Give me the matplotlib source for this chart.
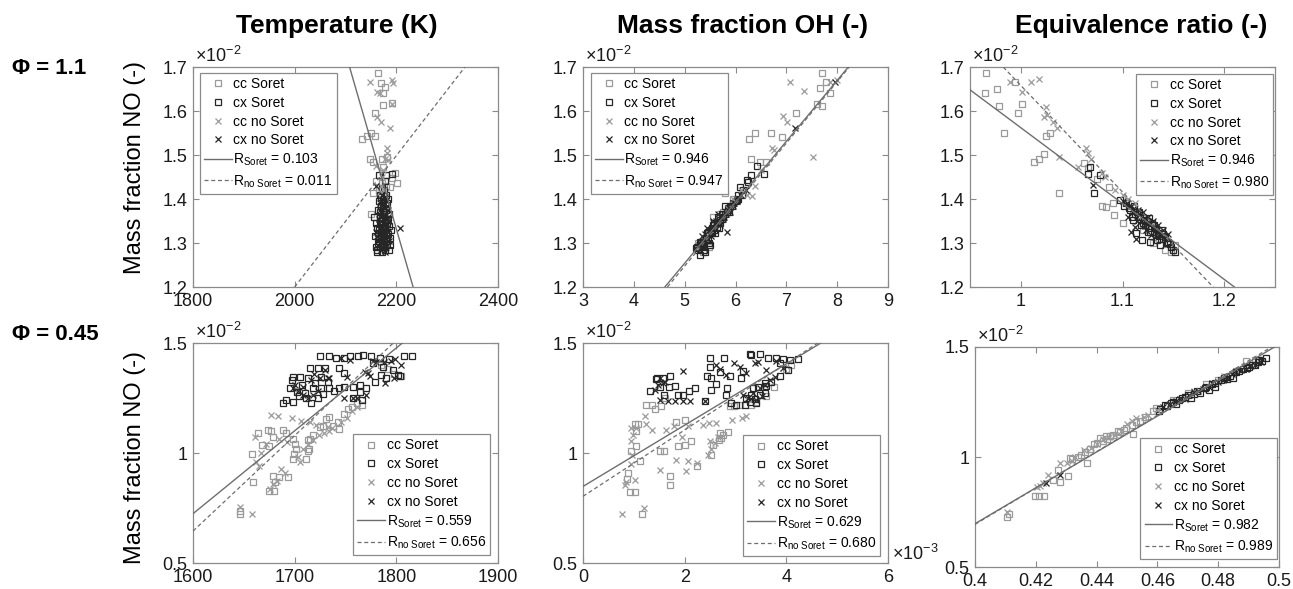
#!/usr/bin/env python3
"""NO mass fraction versus temperature, OH and equivalence ratio for two Phi cases."""

import matplotlib

matplotlib.use("Agg")
import matplotlib.pyplot as plt
from matplotlib.ticker import FormatStrFormatter

FIG_W, FIG_H = 1293, 589
FONT = "Liberation Sans"
LIGHT = "#9a9a9a"
DARK = "#262626"
SPINE = "#8a8a8a"
FIT_COLOR = "#6e6e6e"
TICK_SIZE = 13

# ---------------------------------------------------------------- data
# y values are mass fraction NO in units of 1e-2, OH x values in 1e-3
# Phi = 1.1, temperature (K)
P1_CCS_X = [2164, 2169, 2178, 2174, 2173, 2191, 2158, 2133, 2142, 2151, 2158, 2148, 2155, 2171,
            2181, 2174, 2197, 2191, 2201, 2188, 2155, 2171, 2151, 2166, 2176, 2160, 2180]
P1_CCS_Y = [1.686, 1.664, 1.655, 1.640, 1.614, 1.619, 1.595, 1.536, 1.543, 1.551, 1.543, 1.492,
            1.485, 1.492, 1.496, 1.473, 1.458, 1.447, 1.436, 1.428, 1.413, 1.436, 1.367, 1.420,
            1.410, 1.440, 1.430]
P1_CXS_X = [2165, 2180, 2192, 2178, 2172, 2168, 2176, 2182, 2170, 2163, 2175, 2185, 2168, 2178,
            2160, 2172, 2186, 2165, 2180, 2170, 2158, 2188, 2175, 2163, 2182, 2168, 2178, 2160,
            2172, 2185, 2166, 2174, 2170, 2176, 2164, 2157, 2190, 2161, 2181, 2173,
            2167, 2173, 2179, 2171, 2177, 2183, 2162, 2169, 2176, 2184, 2166, 2171, 2179, 2187,
            2162, 2175, 2181, 2168, 2174, 2180, 2176, 2170, 2166, 2184]
P1_CXS_Y = [1.455, 1.455, 1.457, 1.440, 1.425, 1.410, 1.400, 1.390, 1.385, 1.375, 1.370, 1.365,
            1.360, 1.352, 1.345, 1.340, 1.338, 1.330, 1.325, 1.318, 1.315, 1.312, 1.305, 1.300,
            1.298, 1.290, 1.285, 1.292, 1.280, 1.283, 1.308, 1.295, 1.350, 1.335, 1.322, 1.360,
            1.330, 1.285, 1.345, 1.395,
            1.370, 1.365, 1.375, 1.355, 1.345, 1.355, 1.335, 1.325, 1.315, 1.320, 1.310, 1.300,
            1.305, 1.295, 1.280, 1.290, 1.310, 1.345, 1.380, 1.410, 1.420, 1.405, 1.395, 1.400]
P1_CCN_X = [2148, 2191, 2193, 2161, 2168, 2191, 2161, 2169, 2188, 2181, 2181, 2178, 2184, 2160,
            2174, 2171, 2170, 2175, 2168]
P1_CCN_Y = [1.667, 1.670, 1.663, 1.644, 1.640, 1.615, 1.586, 1.576, 1.561, 1.515, 1.504, 1.492,
            1.489, 1.474, 1.466, 1.451, 1.430, 1.420, 1.415]
P1_CXN_X = [2160, 2207, 2172, 2180, 2168, 2176, 2184, 2170, 2178, 2166, 2174, 2182, 2170, 2160,
            2178, 2168, 2186, 2174, 2164, 2180, 2172, 2177, 2169, 2175, 2171, 2183, 2165,
            2168, 2175, 2181, 2173, 2179, 2167, 2176, 2184, 2162, 2173, 2180, 2169, 2177, 2165,
            2171, 2178, 2183, 2174]
P1_CXN_Y = [1.430, 1.333, 1.400, 1.395, 1.390, 1.380, 1.375, 1.370, 1.360, 1.355, 1.345, 1.340,
            1.330, 1.325, 1.318, 1.310, 1.305, 1.300, 1.295, 1.290, 1.385, 1.365, 1.342, 1.325,
            1.315, 1.350, 1.310,
            1.375, 1.390, 1.385, 1.355, 1.345, 1.335, 1.330, 1.325, 1.315, 1.300, 1.300, 1.285,
            1.280, 1.345, 1.410, 1.405, 1.360, 1.320]

# Phi = 1.1, mass fraction OH
P2_CCS_X = [7.695, 7.78, 7.66, 7.86, 7.60, 7.695, 7.19, 6.38, 6.27, 6.69, 6.91, 6.30, 6.48, 5.79,
            5.70, 5.76, 5.27, 5.37, 5.47, 5.56, 6.60, 5.95, 5.40]
P2_CCS_Y = [1.686, 1.667, 1.652, 1.640, 1.617, 1.611, 1.596, 1.551, 1.536, 1.549, 1.542, 1.491,
            1.485, 1.414, 1.367, 1.371, 1.301, 1.280, 1.292, 1.360, 1.483, 1.400, 1.310]
P2_CXS_X = [5.269, 5.367, 5.465, 5.301, 5.531, 5.433, 5.629, 5.564, 5.695, 5.76, 5.662, 5.826,
            5.892, 5.957, 6.023, 6.056, 6.154, 6.252, 5.728, 5.531, 5.40, 5.334, 6.42, 6.56, 6.30,
            6.22, 6.09, 5.22, 5.31, 5.79, 5.60, 5.50,
            5.25, 5.33, 5.38, 5.42, 5.48, 5.52, 5.58, 5.63, 5.67, 5.73, 5.80, 5.85, 5.88, 5.93,
            6.00, 6.05, 6.12, 5.45, 5.58, 5.70]
P2_CXS_Y = [1.284, 1.292, 1.307, 1.303, 1.322, 1.322, 1.337, 1.341, 1.352, 1.360, 1.360, 1.371,
            1.383, 1.390, 1.398, 1.409, 1.421, 1.439, 1.367, 1.333, 1.280, 1.295, 1.474, 1.457,
            1.455, 1.443, 1.428, 1.288, 1.273, 1.383, 1.322, 1.296,
            1.290, 1.300, 1.285, 1.310, 1.300, 1.325, 1.330, 1.345, 1.335, 1.355, 1.365, 1.380,
            1.370, 1.385, 1.395, 1.400, 1.410, 1.325, 1.345, 1.345]
P2_CCN_X = [7.07, 7.35, 7.99, 6.94, 7.02, 6.71, 6.76, 7.53, 6.38, 6.32, 6.22, 7.85, 6.50, 6.10,
            5.95, 5.85]
P2_CCN_Y = [1.667, 1.645, 1.670, 1.589, 1.576, 1.517, 1.511, 1.495, 1.430, 1.407, 1.409, 1.665,
            1.465, 1.420, 1.400, 1.380]
P2_CXN_X = [5.83, 7.18, 7.96, 5.30, 5.45, 5.50, 5.62, 5.70, 5.78, 5.85, 5.95, 6.02, 5.55, 5.40,
            5.65, 5.90, 6.10, 6.20, 5.35, 5.43,
            5.28, 5.38, 5.48, 5.58, 5.68, 5.75, 5.82, 5.88, 5.98, 6.05, 5.52, 5.62, 5.72, 5.35]
P2_CXN_Y = [1.326, 1.561, 1.667, 1.300, 1.310, 1.330, 1.345, 1.340, 1.360, 1.375, 1.385, 1.395,
            1.350, 1.320, 1.365, 1.370, 1.410, 1.420, 1.315, 1.333,
            1.295, 1.305, 1.320, 1.335, 1.350, 1.355, 1.365, 1.380, 1.390, 1.400, 1.315, 1.350,
            1.360, 1.300]

# Phi = 1.1, equivalence ratio
P3_CCS_X = [0.966, 0.965, 0.977, 0.979, 0.994, 0.997, 1.001, 0.983, 1.025, 1.029, 1.013, 1.018,
            1.023, 1.038, 1.062, 1.066, 1.080, 1.084, 1.092, 1.091, 1.100, 1.075, 1.087, 1.142,
            1.148, 1.152, 1.130, 1.120]
P3_CCS_Y = [1.686, 1.640, 1.651, 1.612, 1.667, 1.595, 1.617, 1.549, 1.543, 1.549, 1.485, 1.490,
            1.502, 1.414, 1.481, 1.470, 1.384, 1.381, 1.364, 1.390, 1.346, 1.445, 1.428, 1.284,
            1.280, 1.295, 1.300, 1.330]
P3_CXS_X = [1.068, 1.066, 1.072, 1.078, 1.098, 1.103, 1.106, 1.111, 1.114, 1.109, 1.117, 1.121,
            1.126, 1.122, 1.129, 1.132, 1.127, 1.135, 1.139, 1.142, 1.134, 1.145, 1.148, 1.137,
            1.152, 1.113, 1.119, 1.127,
            1.101, 1.107, 1.112, 1.116, 1.120, 1.124, 1.128, 1.131, 1.136, 1.140, 1.144, 1.147,
            1.150, 1.118, 1.125, 1.133, 1.138, 1.110]
P3_CXS_Y = [1.473, 1.457, 1.413, 1.454, 1.398, 1.390, 1.379, 1.383, 1.371, 1.360, 1.360, 1.352,
            1.356, 1.341, 1.345, 1.333, 1.326, 1.322, 1.330, 1.314, 1.307, 1.303, 1.292, 1.295,
            1.280, 1.322, 1.307, 1.303,
            1.385, 1.375, 1.365, 1.370, 1.345, 1.350, 1.335, 1.340, 1.315, 1.320, 1.300, 1.298,
            1.285, 1.340, 1.325, 1.318, 1.310, 1.352]
P3_CCN_X = [0.989, 1.010, 1.018, 1.001, 1.025, 1.023, 1.026, 1.032, 1.036, 1.038, 1.056, 1.064,
            1.066, 1.069, 1.080, 1.083, 1.093, 1.100, 1.105, 1.112]
P3_CCN_Y = [1.667, 1.667, 1.672, 1.644, 1.610, 1.587, 1.590, 1.576, 1.561, 1.495, 1.472, 1.515,
            1.504, 1.490, 1.458, 1.451, 1.420, 1.410, 1.400, 1.390]
P3_CXN_X = [1.071, 1.112, 1.108, 1.113, 1.100, 1.108, 1.115, 1.120, 1.125, 1.130, 1.135, 1.118,
            1.140, 1.145, 1.128, 1.122, 1.105,
            1.104, 1.110, 1.116, 1.121, 1.126, 1.131, 1.136, 1.141, 1.114, 1.123, 1.133]
P3_CXN_Y = [1.432, 1.337, 1.326, 1.308, 1.395, 1.385, 1.375, 1.370, 1.360, 1.350, 1.340, 1.350,
            1.330, 1.320, 1.318, 1.338, 1.360,
            1.390, 1.378, 1.365, 1.355, 1.345, 1.335, 1.325, 1.310, 1.350, 1.330, 1.322]

# Phi = 0.45, temperature (K)
P4_CCS_X = [1646, 1646, 1658, 1659, 1664, 1674, 1677, 1668, 1675, 1679, 1679, 1685, 1681, 1675,
            1680, 1693, 1689, 1691, 1698, 1700, 1701, 1698, 1699, 1711, 1713, 1715, 1714, 1731,
            1734, 1743, 1744, 1738, 1749, 1752, 1756, 1761, 1766, 1725, 1728, 1718, 1713, 1792,
            1798, 1785, 1805]
P4_CCS_Y = [0.736, 0.725, 0.996, 0.866, 1.092, 1.103, 1.100, 1.037, 1.030, 1.072, 0.897, 0.889,
            0.866, 0.828, 0.828, 0.889, 1.103, 1.090, 1.065, 1.040, 1.019, 0.973, 0.995, 0.973,
            1.011, 1.065, 1.020, 1.153, 1.164, 1.141, 1.107, 1.125, 1.179, 1.202, 1.210, 1.225,
            1.218, 1.118, 1.125, 1.080, 1.058, 1.380, 1.360, 1.400, 1.350]
P4_CXS_X = [1725, 1734, 1741, 1749, 1754, 1762, 1767, 1775, 1784, 1793, 1808, 1815, 1777, 1787,
            1797, 1802, 1804, 1790, 1785, 1779, 1770, 1764, 1757, 1766, 1757, 1764, 1715, 1723,
            1730, 1726, 1713, 1698, 1697, 1705, 1695, 1707, 1702, 1691, 1689, 1698, 1711, 1716,
            1723, 1726, 1734, 1739, 1744, 1749, 1749, 1744, 1733, 1718, 1710, 1704, 1720, 1728]
P4_CXS_Y = [1.439, 1.441, 1.431, 1.434, 1.439, 1.443, 1.445, 1.439, 1.431, 1.425, 1.443, 1.443,
            1.408, 1.393, 1.378, 1.355, 1.348, 1.339, 1.355, 1.324, 1.294, 1.278, 1.248, 1.240,
            1.301, 1.310, 1.385, 1.388, 1.385, 1.347, 1.339, 1.347, 1.332, 1.345, 1.294, 1.309,
            1.278, 1.240, 1.225, 1.232, 1.248, 1.225, 1.248, 1.294, 1.294, 1.280, 1.294, 1.300,
            1.362, 1.385, 1.324, 1.294, 1.271, 1.260, 1.320, 1.270]
P4_CCN_X = [1658, 1646, 1677, 1684, 1697, 1706, 1715, 1721, 1733, 1661, 1667, 1672, 1662, 1685,
            1692, 1687, 1690, 1679, 1676, 1683, 1703, 1708, 1713, 1718, 1724, 1729, 1734, 1737,
            1746, 1751, 1756, 1761, 1665, 1705]
P4_CCN_Y = [0.721, 0.755, 1.174, 1.167, 1.159, 1.144, 1.140, 1.129, 1.118, 1.072, 1.000, 1.040,
            0.958, 1.065, 1.050, 0.927, 0.907, 0.858, 0.836, 0.875, 0.981, 1.020, 1.040, 1.060,
            1.080, 1.090, 1.100, 1.115, 1.140, 1.160, 1.190, 1.210, 0.940, 0.960]
P4_CXN_X = [1698, 1703, 1708, 1713, 1718, 1723, 1716, 1725, 1730, 1733, 1746, 1754, 1751, 1749,
            1757, 1761, 1769, 1772, 1774, 1777, 1780, 1788, 1795, 1798, 1789, 1770, 1734, 1708,
            1700, 1719, 1805, 1799]
P4_CXN_Y = [1.294, 1.280, 1.265, 1.250, 1.265, 1.280, 1.330, 1.340, 1.377, 1.340, 1.431, 1.423,
            1.347, 1.251, 1.248, 1.250, 1.370, 1.363, 1.350, 1.419, 1.415, 1.415, 1.416, 1.340,
            1.316, 1.263, 1.339, 1.300, 1.310, 1.360, 1.400, 1.425]

# Phi = 0.45, mass fraction OH
P5_CCS_X = [1.167, 0.918, 1.016, 0.885, 0.870, 1.128, 0.951, 1.050, 1.016, 1.080, 1.050, 1.246,
            1.364, 1.410, 1.541, 1.607, 1.823, 2.000, 1.869, 2.000, 2.131, 1.521, 1.590, 1.718,
            1.718, 2.243, 2.525, 2.557, 2.689, 2.760, 2.852, 2.670, 2.720, 2.885, 2.980, 3.082,
            3.300, 3.410, 3.600, 3.750, 4.000, 4.100]
P5_CCS_Y = [0.722, 0.825, 0.821, 0.909, 0.880, 0.962, 1.007, 1.030, 1.131, 1.130, 1.100, 1.219,
            1.216, 1.200, 1.212, 1.250, 1.140, 1.151, 1.030, 1.037, 1.053, 1.010, 1.010, 0.894,
            0.856, 0.939, 0.992, 1.037, 1.090, 1.080, 1.095, 1.060, 1.070, 1.212, 1.212, 1.219,
            1.220, 1.230, 1.260, 1.300, 1.380, 1.400]
P5_CXS_X = [1.456, 1.430, 1.574, 1.718, 1.311, 1.508, 1.690, 1.803, 1.587, 1.869, 1.967, 2.085,
            2.210, 2.393, 2.505, 2.767, 2.490, 2.525, 2.440, 2.525, 2.610, 2.689, 2.833, 2.885,
            3.115, 3.148, 3.279, 3.311, 3.475, 3.639, 3.800, 3.934, 4.066, 4.230, 3.869, 4.033,
            3.870, 3.705, 3.574, 3.440, 2.820, 2.918, 3.016, 3.180, 3.279, 3.410, 3.310, 3.344,
            3.475, 3.574, 3.607, 3.200, 3.380]
P5_CXS_Y = [1.340, 1.335, 1.340, 1.351, 1.280, 1.300, 1.300, 1.303, 1.265, 1.265, 1.265, 1.280,
            1.295, 1.237, 1.431, 1.431, 1.390, 1.340, 1.348, 1.287, 1.313, 1.368, 1.295, 1.350,
            1.340, 1.371, 1.450, 1.447, 1.450, 1.431, 1.430, 1.428, 1.424, 1.428, 1.409, 1.378,
            1.350, 1.325, 1.318, 1.300, 1.265, 1.227, 1.219, 1.220, 1.234, 1.227, 1.265, 1.295,
            1.265, 1.273, 1.303, 1.250, 1.245]
P5_CCN_X = [0.774, 1.193, 0.820, 0.850, 1.016, 0.950, 0.970, 0.951, 0.984, 0.951, 1.049, 1.213,
            1.230, 1.364, 1.626, 1.784, 1.950, 2.066, 1.508, 1.823, 2.066, 2.033, 2.243, 2.361,
            2.479, 2.623, 2.938, 3.134, 3.213, 2.492, 2.600, 2.520, 2.460, 2.660]
P5_CCN_Y = [0.722, 0.750, 0.856, 0.870, 0.878, 0.950, 0.990, 1.053, 1.083, 1.113, 1.113, 1.166,
            1.130, 1.106, 1.106, 1.121, 1.075, 1.121, 0.924, 0.969, 0.962, 0.916, 0.954, 1.128,
            1.136, 1.136, 1.151, 1.159, 1.166, 1.053, 1.045, 1.020, 0.990, 1.075]
P5_CXN_X = [1.967, 1.574, 1.410, 1.508, 1.672, 1.803, 1.967, 2.098, 2.393, 2.610, 2.690, 2.820,
            2.964, 3.080, 3.200, 3.377, 3.440, 3.607, 3.803, 3.934, 3.148, 3.250, 3.344, 3.475,
            3.574, 3.670, 3.770, 1.510, 1.620, 1.480, 3.400, 3.530]
P5_CXN_Y = [1.371, 1.318, 1.288, 1.242, 1.237, 1.237, 1.237, 1.237, 1.237, 1.401, 1.380, 1.356,
            1.409, 1.390, 1.363, 1.409, 1.415, 1.378, 1.416, 1.386, 1.265, 1.250, 1.275, 1.295,
            1.310, 1.330, 1.345, 1.340, 1.325, 1.310, 1.240, 1.260]

# Phi = 0.45, equivalence ratio
P6_CCS_X = [0.4104, 0.4113, 0.4197, 0.4211, 0.4227, 0.4258, 0.4279, 0.4307, 0.4274, 0.4312,
            0.4367, 0.4362, 0.4378, 0.4411, 0.4432, 0.4455, 0.4477, 0.4498, 0.4520, 0.4515,
            0.4542, 0.4586, 0.4597, 0.4390, 0.4420, 0.4470, 0.4435, 0.4860, 0.4893, 0.4920,
            0.4935, 0.4760, 0.4800, 0.4700, 0.4650,
            0.4400, 0.4445, 0.4490, 0.4530, 0.4560, 0.4320, 0.4340, 0.4350]
P6_CCS_Y = [0.728, 0.740, 0.824, 0.824, 0.824, 0.895, 0.887, 0.915, 0.941, 0.994, 0.971, 1.024,
            1.035, 1.088, 1.095, 1.100, 1.112, 1.131, 1.103, 1.146, 1.164, 1.207, 1.222, 1.060,
            1.075, 1.120, 1.080, 1.389, 1.435, 1.442, 1.440, 1.330, 1.350, 1.290, 1.260,
            1.065, 1.095, 1.125, 1.160, 1.180, 0.990, 1.000, 1.010]
P6_CXS_X = [0.461, 0.463, 0.465, 0.466, 0.468, 0.470, 0.471, 0.473, 0.474, 0.476, 0.478, 0.479,
            0.481, 0.482, 0.484, 0.485, 0.487, 0.488, 0.490, 0.491, 0.493, 0.4958, 0.4945, 0.467,
            0.477, 0.483,
            0.4605, 0.4625, 0.4645, 0.469, 0.472, 0.4755, 0.479, 0.4825, 0.486, 0.4895, 0.492,
            0.4935]
P6_CXS_Y = [1.220, 1.230, 1.250, 1.240, 1.270, 1.280, 1.270, 1.300, 1.290, 1.320, 1.330, 1.320,
            1.350, 1.360, 1.370, 1.360, 1.390, 1.400, 1.410, 1.420, 1.430, 1.450, 1.435, 1.260,
            1.305, 1.355,
            1.210, 1.235, 1.245, 1.275, 1.285, 1.315, 1.335, 1.365, 1.385, 1.405, 1.420, 1.440]
P6_CCN_X = [0.4104, 0.4203, 0.4215, 0.4225, 0.4241, 0.4279, 0.4301, 0.4320, 0.4380, 0.4400,
            0.4440, 0.4480, 0.4500, 0.4515, 0.4531, 0.4556, 0.4600, 0.4640, 0.4720, 0.4820,
            0.4330, 0.4360, 0.4420, 0.4460, 0.4570]
P6_CCN_Y = [0.751, 0.865, 0.870, 0.880, 0.918, 0.971, 0.971, 0.980, 1.040, 1.060, 1.090, 1.120,
            1.150, 1.165, 1.176, 1.184, 1.215, 1.240, 1.300, 1.370,
            1.000, 1.030, 1.080, 1.100, 1.190]
P6_CXN_X = [0.4235, 0.4280, 0.462, 0.466, 0.469, 0.472, 0.475, 0.478, 0.480, 0.483, 0.486,
            0.489, 0.492, 0.494,
            0.464, 0.4675, 0.4705, 0.4735, 0.477, 0.4815, 0.4845, 0.4875, 0.4905]
P6_CXN_Y = [0.880, 0.920, 1.225, 1.255, 1.265, 1.295, 1.310, 1.335, 1.340, 1.360, 1.385, 1.400,
            1.420, 1.430,
            1.240, 1.265, 1.280, 1.300, 1.320, 1.350, 1.375, 1.395, 1.415]

# linear fits: (slope, intercept) and correlation coefficient
FIT_SORET = [(-0.004, 10.132), (0.1385, 0.5615), (-1.723, 3.285),
             (0.003767, -5.303), (0.1393, 0.848), (8.152, -2.564)]
FIT_NOSORET = [(0.0014925, -1.785), (0.1397, 0.549), (-2.421, 4.079),
               (0.00434, -6.299), (0.1509, 0.803), (8.267, -2.613)]
R_SORET = ["0.103", "0.946", "0.946", "0.559", "0.629", "0.982"]
R_NOSORET = ["0.011", "0.947", "0.980", "0.656", "0.680", "0.989"]

SERIES_LABELS = ["cc Soret", "cx Soret", "cc no Soret", "cx no Soret"]
COLUMN_TITLES = ["Temperature (K)", "Mass fraction OH (-)", "Equivalence ratio (-)"]
ROW_LABELS = ["Φ = 1.1", "Φ = 0.45"]
Y_LABEL = "Mass fraction NO (-)"

X_LIMITS = [(1800, 2400), (3, 9), (0.95, 1.25), (1600, 1900), (0, 6), (0.4, 0.5)]
X_TICKS = [[1800, 2000, 2200, 2400], [3, 4, 5, 6, 7, 8, 9], [1, 1.1, 1.2],
           [1600, 1700, 1800, 1900], [0, 2, 4, 6], [0.4, 0.42, 0.44, 0.46, 0.48, 0.5]]
Y_LIMITS = [(1.2, 1.7)] * 3 + [(0.5, 1.5)] * 3
Y_TICKS = [[1.2, 1.3, 1.4, 1.5, 1.6, 1.7]] * 3 + [[0.5, 1, 1.5]] * 3

# axes boxes in pixels: left, top, width, height
AXES_PX = [(193, 67, 305, 220), (583, 67, 305, 220), (970, 67, 305, 220),
           (193, 343, 305, 220), (583, 343, 305, 220), (975, 347, 304, 220)]
# legend placement: corner and offset from that corner in pixels
LEGEND_LOC = ["upper left", "upper left", "upper right", "lower right", "lower right", "lower right"]
LEGEND_OFF = [(7, 6), (8, 6), (2, 7), (8, 8), (8, 7), (2, 8)]
MARKER_STYLES = [("s", LIGHT, 5.0), ("s", DARK, 5.0), ("x", LIGHT, 4.2), ("x", DARK, 4.2)]


def px_rect(left, top, width, height):
    return [left / FIG_W, 1 - (top + height) / FIG_H, width / FIG_W, height / FIG_H]


def configure_style():
    plt.rcParams.update({
        "font.family": [FONT, "DejaVu Sans"],
        "mathtext.fontset": "custom",
        "mathtext.rm": FONT,
        "mathtext.it": FONT + ":italic",
        "mathtext.bf": FONT + ":bold",
        "axes.unicode_minus": False,
        "font.size": 12,
    })


def draw_panel(ax, idx, series, box):
    for (xs, ys), (marker, color, size), label in zip(series, MARKER_STYLES, SERIES_LABELS):
        ax.plot(xs, ys, linestyle="none", marker=marker, markersize=size,
                markerfacecolor="none", markeredgecolor=color, markeredgewidth=0.9,
                label=label, zorder=3)

    m, b = FIT_SORET[idx]
    ax.axline((0, b), slope=m, color=FIT_COLOR, linewidth=1.0,
              label=r"$\mathregular{R_{Soret}}$ = " + R_SORET[idx], zorder=4)
    m, b = FIT_NOSORET[idx]
    ax.axline((0, b), slope=m, color=FIT_COLOR, linewidth=0.9, linestyle=(0, (3.2, 2.2)),
              label=r"$\mathregular{R_{no\ Soret}}$ = " + R_NOSORET[idx], zorder=4)

    ax.set_xlim(*X_LIMITS[idx])
    ax.set_ylim(*Y_LIMITS[idx])
    ax.set_xticks(X_TICKS[idx])
    ax.set_yticks(Y_TICKS[idx])
    ax.xaxis.set_major_formatter(FormatStrFormatter("%g"))
    ax.yaxis.set_major_formatter(FormatStrFormatter("%g"))
    ax.tick_params(direction="in", top=True, right=True, length=4, width=0.8,
                   color=SPINE, labelsize=TICK_SIZE, labelcolor="#1a1a1a", pad=4)
    for spine in ax.spines.values():
        spine.set_color(SPINE)
        spine.set_linewidth(0.9)

    ax.text(0.005, 1.005, "×" + r"$\mathregular{10^{-2}}$", transform=ax.transAxes,
            ha="left", va="bottom", fontsize=TICK_SIZE, color="#1a1a1a")

    w, h = box[2], box[3]
    dx, dy = LEGEND_OFF[idx]
    loc = LEGEND_LOC[idx]
    if loc == "upper left":
        anchor = (dx / w, 1 - dy / h)
    elif loc == "upper right":
        anchor = (1 - dx / w, 1 - dy / h)
    else:
        anchor = (1 - dx / w, dy / h)
    leg = ax.legend(loc=loc, bbox_to_anchor=anchor, borderaxespad=0, fontsize=10,
                    frameon=True, fancybox=False, framealpha=1, edgecolor=SPINE,
                    handlelength=2.0, handletextpad=0.1, labelspacing=0.34,
                    borderpad=0.3, numpoints=1)
    leg.get_frame().set_linewidth(0.9)


def main():
    configure_style()
    fig = plt.figure(figsize=(FIG_W / 100, FIG_H / 100), dpi=100)
    fig.patch.set_facecolor("white")

    all_series = [
        [(P1_CCS_X, P1_CCS_Y), (P1_CXS_X, P1_CXS_Y), (P1_CCN_X, P1_CCN_Y), (P1_CXN_X, P1_CXN_Y)],
        [(P2_CCS_X, P2_CCS_Y), (P2_CXS_X, P2_CXS_Y), (P2_CCN_X, P2_CCN_Y), (P2_CXN_X, P2_CXN_Y)],
        [(P3_CCS_X, P3_CCS_Y), (P3_CXS_X, P3_CXS_Y), (P3_CCN_X, P3_CCN_Y), (P3_CXN_X, P3_CXN_Y)],
        [(P4_CCS_X, P4_CCS_Y), (P4_CXS_X, P4_CXS_Y), (P4_CCN_X, P4_CCN_Y), (P4_CXN_X, P4_CXN_Y)],
        [(P5_CCS_X, P5_CCS_Y), (P5_CXS_X, P5_CXS_Y), (P5_CCN_X, P5_CCN_Y), (P5_CXN_X, P5_CXN_Y)],
        [(P6_CCS_X, P6_CCS_Y), (P6_CXS_X, P6_CXS_Y), (P6_CCN_X, P6_CCN_Y), (P6_CXN_X, P6_CXN_Y)],
    ]

    axes = []
    for idx, box in enumerate(AXES_PX):
        ax = fig.add_axes(px_rect(*box))
        draw_panel(ax, idx, all_series[idx], box)
        axes.append(ax)

    # OH axis multiplier only shows on the lower panel
    axes[4].text(1.012, 0.04, "×" + r"$\mathregular{10^{-3}}$", transform=axes[4].transAxes,
                 ha="left", va="center", fontsize=TICK_SIZE, color="#1a1a1a")

    # column titles and row labels
    for title, xc in zip(COLUMN_TITLES, [337, 743, 1141]):
        fig.text(xc / FIG_W, 1 - 26 / FIG_H, title, ha="center", va="center",
                 fontsize=19, fontweight="bold")
    for label, yc in zip(ROW_LABELS, [68, 335]):
        fig.text(12 / FIG_W, 1 - yc / FIG_H, label, ha="left", va="center",
                 fontsize=16, fontweight="bold")
    for yc in [167, 457]:
        fig.text(135 / FIG_W, 1 - yc / FIG_H, Y_LABEL, rotation=90, ha="center",
                 va="center", fontsize=17)

    fig.savefig("out.png", dpi=100, facecolor="white")
    plt.close(fig)


if __name__ == "__main__":
    main()
